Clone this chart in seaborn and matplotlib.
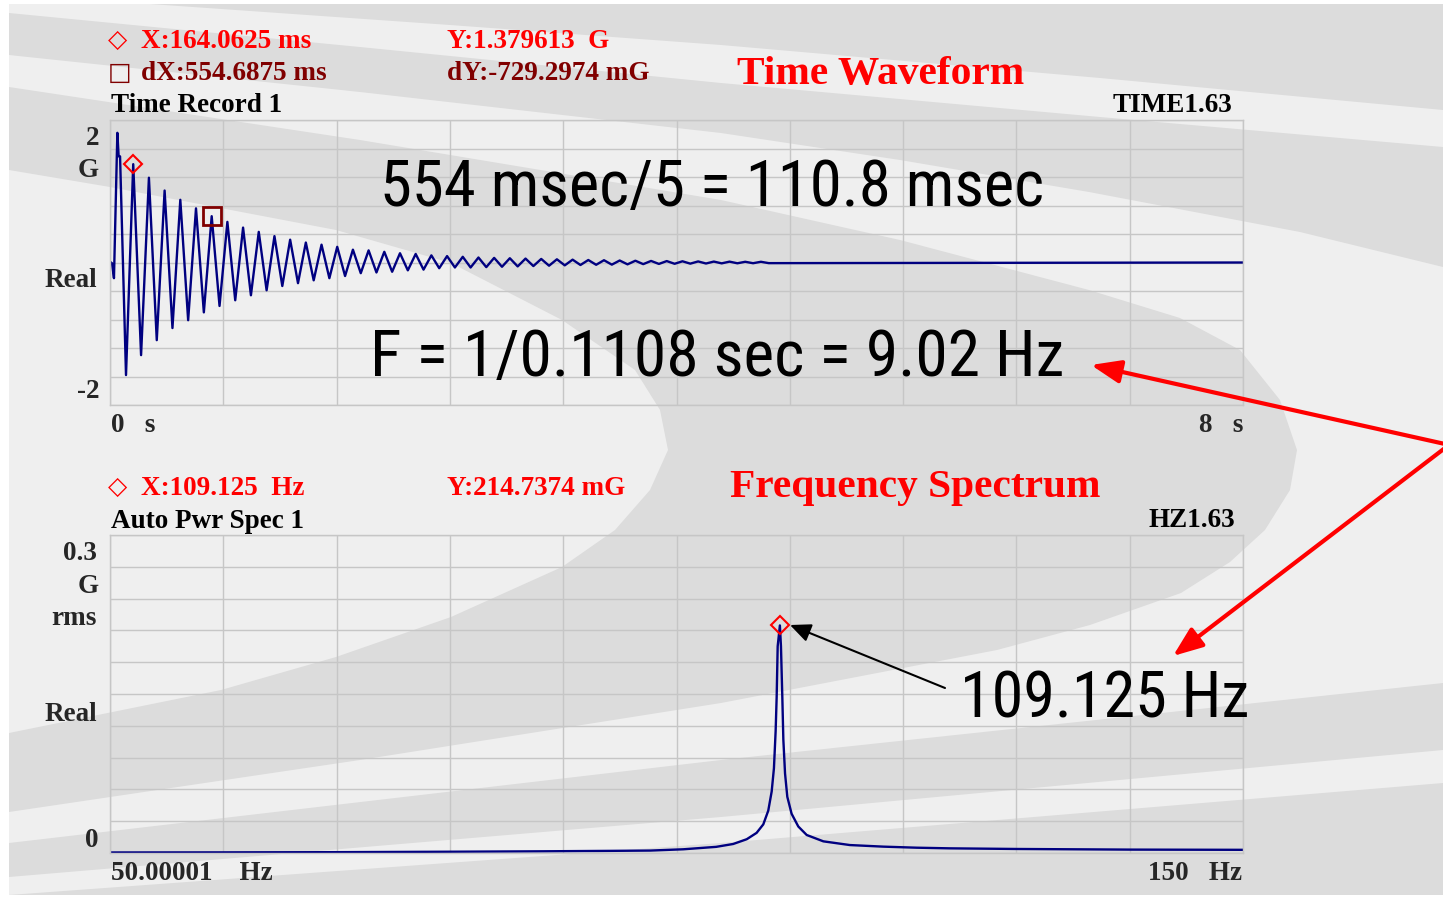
import numpy as np
import pandas as pd
import seaborn as sns
import matplotlib.pyplot as plt
from matplotlib import font_manager
from matplotlib.font_manager import FontProperties
from matplotlib.patches import Polygon, Rectangle

W, H = 1443, 901

## Data

# time record: start transient (s, G)
lead_t = [0.0, 0.014, 0.028, 0.052, 0.061, 0.071, 0.113]
lead_g = [0.01, -0.01, -0.22, 1.82, 1.49, 1.49, -1.58]

# ringing: alternating peak / trough every half period, first one at the cursor
ring_t0 = 0.164
period = 0.1108
ring_g = [1.38, -1.30, 1.19, -1.09, 1.01, -0.92, 0.88, -0.81, 0.76, -0.70,
          0.65, -0.61, 0.57, -0.53, 0.49, -0.46, 0.43, -0.39, 0.37, -0.33,
          0.32, -0.29, 0.28, -0.25, 0.25, -0.22, 0.22, -0.19, 0.18, -0.15,
          0.17, -0.14, 0.15, -0.13, 0.13, -0.11, 0.12, -0.10, 0.10, -0.08,
          0.09, -0.07, 0.08, -0.07, 0.07, -0.065, 0.065, -0.06, 0.06, -0.055,
          0.055, -0.05, 0.05, -0.045, 0.045, -0.04, 0.04, -0.035, 0.035, -0.032,
          0.032, -0.03, 0.028, -0.026, 0.025, -0.023, 0.022, -0.02, 0.02, -0.018,
          0.017, -0.016, 0.015, -0.014, 0.013, -0.012, 0.012, -0.011, 0.01, -0.01,
          0.01, -0.009]
tail_t = [8.0]
tail_g = [0.0]

# auto power spectrum (Hz, G rms)
spec_hz = [50, 60, 70, 80, 88, 94, 97.7, 100.6, 103.5, 105.0, 106.2, 107.07,
           107.66, 108.1, 108.4, 108.6, 108.75, 108.84, 108.93, 109.125, 109.22,
           109.34, 109.43, 109.58, 109.78, 110.16, 110.75, 111.49, 112.96, 115.3,
           118.25, 121.2, 124.1, 130, 140, 150]
spec_g = [0.0005, 0.0006, 0.0008, 0.0012, 0.0016, 0.002, 0.0023, 0.0035, 0.0058,
          0.0085, 0.013, 0.019, 0.027, 0.040, 0.058, 0.080, 0.115, 0.147, 0.195,
          0.2147, 0.195, 0.147, 0.107, 0.075, 0.053, 0.037, 0.025, 0.017, 0.011,
          0.0075, 0.006, 0.005, 0.0044, 0.0038, 0.0032, 0.003]

# cursors
cur_t, cur_g = 0.1640625, 1.379613
dx_t, dy_g = 0.5546875, -0.7292974
peak_hz, peak_g = 109.125, 0.2147374

ring_t = ring_t0 + period / 2 * np.arange(len(ring_g))
wave = pd.DataFrame({'t': np.concatenate([lead_t, ring_t, tail_t]),
                     'g': np.concatenate([lead_g, ring_g, tail_g])})
spec = pd.DataFrame({'hz': spec_hz, 'g': spec_g})

## Figure

sns.set_style("white")
plt.rcParams['font.family'] = ['Liberation Serif', 'DejaVu Sans']

LIGHT = '#efefef'
DARK = '#dcdcdc'
GRID = '#c6c6c6'
NAVY = '#000080'
MAROON = '#800000'

fig = plt.figure(figsize=(W / 100, H / 100), dpi=100)
fig.patch.set_facecolor('white')

# background swoosh
bg = fig.add_axes([0, 0, 1, 1], zorder=-10)
bg.set_xlim(0, W)
bg.set_ylim(H, 0)
bg.axis('off')
bg.add_patch(Rectangle((9, 4), W - 9, 891, color=LIGHT, lw=0))
shapes = [
    [(150, 4), (450, 25), (721, 45), (1100, 78), (1443, 110), (1443, 4)],
    [(9, 13), (360, 47), (721, 83), (1100, 117), (1443, 147),
     (1443, 267), (1300, 232), (1089, 192), (900, 160), (721, 133), (360, 92), (9, 55)],
    [(9, 87), (360, 140), (721, 200), (900, 240), (1089, 290), (1180, 318),
     (1240, 350), (1280, 400), (1297, 450), (1290, 490), (1265, 530), (1230, 562),
     (1181, 593), (1090, 625), (997, 650), (721, 703), (360, 760), (9, 812),
     (9, 733), (221, 690), (336, 657), (451, 617), (562, 567), (615, 530),
     (650, 490), (668, 450), (660, 410), (635, 370), (562, 320), (451, 263),
     (336, 230), (110, 187), (9, 170)],
    [(9, 843), (721, 760), (1443, 683), (1443, 750), (721, 817), (9, 877)],
    [(9, 895), (721, 843), (1443, 783), (1443, 895)],
]
for pts in shapes:
    bg.add_patch(Polygon(pts, closed=True, color=DARK, lw=0))


def style(ax):
    ax.patch.set_alpha(0)
    ax.set_axisbelow(True)
    ax.grid(True, color=GRID, lw=1)
    ax.tick_params(length=0, labelbottom=False, labelleft=False)
    ax.set_xlabel('')
    ax.set_ylabel('')
    for s in ax.spines.values():
        s.set_color(GRID)
        s.set_linewidth(1)


# time waveform
ax1 = fig.add_axes([110 / W, 1 - 405 / H, 1133 / W, 285 / H])
sns.lineplot(data=wave, x='t', y='g', ax=ax1, color=NAVY, lw=1.7,
             estimator=None, sort=False)
ax1.plot([cur_t], [cur_g], marker='D', ms=9, mfc='none', mec='red', mew=1.5)
ax1.plot([cur_t + dx_t], [cur_g + dy_g], marker='s', ms=13, mfc='none',
         mec=MAROON, mew=2)
ax1.set_xlim(0, 8)
ax1.set_ylim(-2, 2)
ax1.set_xticks(np.linspace(0, 8, 11))
ax1.set_yticks(np.linspace(-2, 2, 11))
style(ax1)

# frequency spectrum
ax2 = fig.add_axes([110 / W, 1 - 853 / H, 1133 / W, 318 / H])
sns.lineplot(data=spec, x='hz', y='g', ax=ax2, color=NAVY, lw=1.7,
             estimator=None, sort=False)
ax2.plot([peak_hz], [peak_g], marker='D', ms=9, mfc='none', mec='red', mew=1.5)
ax2.set_xlim(50, 150)
ax2.set_ylim(0, 0.3)
ax2.set_xticks(np.linspace(50, 150, 11))
ax2.set_yticks(np.linspace(0, 0.3, 11))
style(ax2)

# overlay for texts and arrows, in picture pixels
ov = fig.add_axes([0, 0, 1, 1], zorder=5)
ov.set_xlim(0, W)
ov.set_ylim(H, 0)
ov.axis('off')

lab = dict(fontsize=19.5, fontweight='bold', va='baseline')
sym = dict(fontsize=18, family='DejaVu Sans', va='baseline')

ov.text(108, 47, '\u25c7', color='red', **sym)
ov.text(141, 48, 'X:164.0625 ms', color='red', **lab)
ov.text(447, 48, 'Y:1.379613  G', color='red', **lab)
ov.text(108, 80, '\u25a1', color=MAROON, **sym)
ov.text(141, 80, 'dX:554.6875 ms', color=MAROON, **lab)
ov.text(447, 80, 'dY:-729.2974 mG', color=MAROON, **lab)
ov.text(111, 112, 'Time Record 1', color='black', **lab)
ov.text(1232, 112, 'TIME1.63', color='black', ha='right', **lab)
ov.text(737, 84, 'Time Waveform', color='red', fontsize=29.8,
        fontweight='bold', va='baseline')
ov.text(99, 145, '2', ha='right', **lab)
ov.text(99, 177, 'G', ha='right', **lab)
ov.text(97, 287, 'Real', ha='right', **lab)
ov.text(99, 398, '-2', ha='right', **lab)
ov.text(111, 432, '0   s', **lab)
ov.text(1243, 432, '8   s', ha='right', **lab)

ov.text(108, 494, '\u25c7', color='red', **sym)
ov.text(141, 495, 'X:109.125  Hz', color='red', **lab)
ov.text(447, 495, 'Y:214.7374 mG', color='red', **lab)
ov.text(111, 528, 'Auto Pwr Spec 1', color='black', **lab)
ov.text(1235, 527, 'HZ1.63', color='black', ha='right', **lab)
ov.text(730, 497, 'Frequency Spectrum', color='red', fontsize=29.8,
        fontweight='bold', va='baseline')
ov.text(97, 560, '0.3', ha='right', **lab)
ov.text(99, 593, 'G', ha='right', **lab)
ov.text(97, 625, 'rms', ha='right', **lab)
ov.text(97, 721, 'Real', ha='right', **lab)
ov.text(99, 847, '0', ha='right', **lab)
ov.text(111, 880, '50.00001    Hz', **lab)
ov.text(1242, 880, '150   Hz', ha='right', **lab)

# big hand-written notes: Arial Narrow in the picture. Among the plain sans
# families, use the face whose width at about 50 pt comes closest.
fig.canvas.draw()
rend = fig.canvas.get_renderer()
plain = {'liberation sans', 'liberation sans narrow', 'arial narrow',
         'dejavu sans', 'noto sans', 'roboto', 'roboto condensed',
         'open sans', 'lato', 'inter'}
cands = []
for f in font_manager.fontManager.ttflist:
    fn = f.fname.lower()
    if f.name.lower() not in plain:
        continue
    if f.style != 'normal' or f.weight not in (400, 'normal', 'regular'):
        continue
    if 'italic' in fn or 'oblique' in fn:
        continue
    cands.append(f.fname)
best, best_err = None, None
for fname in sorted(set(cands)):
    probe = ov.text(0, 0, '554 msec/5 = 110.8 msec', fontsize=50,
                    fontproperties=FontProperties(fname=fname))
    try:
        w = probe.get_window_extent(rend).width
    except Exception:
        probe.remove()
        continue
    probe.remove()
    err = abs(w - 665)
    if best_err is None or err < best_err:
        best, best_err = fname, err
big_fp = FontProperties(fname=best) if best else FontProperties(family='Liberation Sans')

big = dict(fontsize=50, fontproperties=big_fp, va='baseline', color='black')
notes = [
    (ov.text(380, 206, '554 msec/5 = 110.8 msec', **big), 665),
    (ov.text(370, 376, 'F = 1/0.1108 sec = 9.02 Hz', **big), 695),
    (ov.text(960, 718, '109.125 Hz', **big), 290),
]

red_arrow = dict(arrowstyle='-|>,head_length=0.9,head_width=0.35', color='red',
                 lw=3, mutation_scale=20, shrinkA=0, shrinkB=0)
ov.annotate('', xy=(1091, 365), xytext=(1445, 444), arrowprops=red_arrow,
            annotation_clip=False)
ov.annotate('', xy=(1173, 656), xytext=(1445, 448), arrowprops=red_arrow,
            annotation_clip=False)
ov.annotate('', xy=(790, 625), xytext=(945, 688),
            arrowprops=dict(arrowstyle='-|>,head_length=0.9,head_width=0.4',
                            color='black', lw=1.5, mutation_scale=14,
                            shrinkA=0, shrinkB=0))

# fit the big notes to the width they take in the picture
fig.canvas.draw()
for txt, width in notes:
    w = txt.get_window_extent(rend).width
    txt.set_fontsize(txt.get_fontsize() * width / w)

fig.savefig('out.png', dpi=100)
